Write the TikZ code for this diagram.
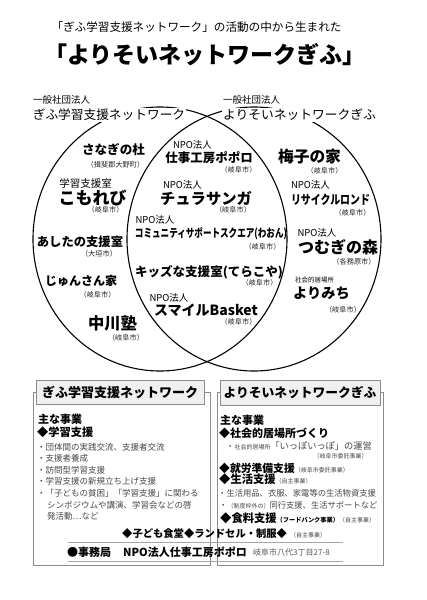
\documentclass[tikz,border=0pt]{standalone}
\usepackage{fontspec}
\usepackage{graphicx}
\setmainfont{Noto Sans CJK JP}
\newcommand\fsz[1]{\fontsize{#1pt}{#1pt}\selectfont}
\begin{document}
\begin{tikzpicture}[x=1pt,y=-1pt,
  c/.style={anchor=center,inner sep=0pt},
  t/.style={anchor=west,inner sep=0pt},
  npo/.style={c,font=\fsz{9.5}},
  city/.style={c,font=\fsz{7.2},text=black!85},
  org/.style={c,font=\bfseries\fsz{#1}},
  cap/.style={c,font=\fsz{#1},fill=white,inner sep=1pt},
  venn/.style={draw=black,line width=1.1pt},
  frame/.style={draw=black!45,line width=0.8pt},
  titlebox/.style={draw=black!45,fill=black!6,line width=0.7pt,inner sep=0pt,font=\bfseries\fsz{#1}},
  head/.style={t,font=\bfseries\fsz{#1}},
  item/.style={t,font=\fsz{8.5},text=black!72},
  rule/.style={draw=black!35,line width=0.6pt}
]
\useasboundingbox (0,0) rectangle (426,600);
\fill[white] (0,0) rectangle (426,600);

% titles
\node[c,font=\fsz{11.6}] (sub) at (196.5,27) {「ぎふ学習支援ネットワーク」の活動の中から生まれた};
\node[c,font=\bfseries\fsz{23}] (title) at (205,55) {「よりそいネットワークぎふ」};

% Venn ellipses
\draw[venn] (160,239) ellipse [x radius=127, y radius=132];
\draw[venn] (254,239) ellipse [x radius=127, y radius=132];

% circle captions
\node[npo] (lcorp) at (61.5,100) {一般社団法人};
\node[cap=12.7] (lname) at (109,115) {ぎふ学習支援ネットワーク};
\node[npo] (rcorp) at (251.5,100) {一般社団法人};
\node[cap=12.75] (rname) at (299.5,115) {よりそいネットワークぎふ};

% left only
\node[org=12.6] (sanagi) at (113.5,150) {さなぎの杜};
\node[city] (sanagic) at (115.5,165) {（揖斐郡大野町）};
\node[c,font=\fsz{10.5}] (komorebip) at (85.5,183) {学習支援室};
\node[org=17] (komorebi) at (92.5,198) {こもれび};
\node[city] (komorebic) at (105.5,210) {（岐阜市）};
\node[org=12.3] (ashita) at (80,242) {あしたの支援室};
\node[city] (ashitac) at (99,254) {（大垣市）};
\node[org=12] (junsan) at (81,281) {じゅんさん家};
\node[city] (junsanc) at (97.5,295) {（岐阜市）};
\node[org=16.3] (nakagawa) at (112.5,323) {中川塾};
\node[city] (nakagawac) at (126,338) {（岐阜市）};

% middle
\node[npo] (popolop) at (192.5,145) {NPO法人};
\node[org=12.5] (popolo) at (209,158) {仕事工房ポポロ};
\node[city] (popoloc) at (238.5,170) {（岐阜市）};
\node[npo] (churap) at (182.5,185) {NPO法人};
\node[org=15.3] (chura) at (206,198) {チュラサンガ};
\node[city] (churac) at (233,210) {（岐阜市）};
\node[npo] (waonp) at (155,220) {NPO法人};
\node[org=11.5] (waon) at (211,234) {\resizebox{152pt}{\height}{コミュニティサポートスクエア(わおん)}};
\node[city] (waonc) at (262.5,247) {（岐阜市）};
\node[org=12.5] (kids) at (209,272) {\resizebox{148pt}{\height}{キッズな支援室(てらこや)}};
\node[city] (kidsc) at (259.5,283) {（岐阜市）};
\node[npo] (smilep) at (169,298) {NPO法人};
\node[org=14] (smile) at (206,310) {スマイルBasket};
\node[city] (smilec) at (238.5,322) {（岐阜市）};

% right only
\node[org=15.7] (umeko) at (309.5,157) {梅子の家};
\node[city] (umekoc) at (324.5,171) {（岐阜市）};
\node[npo] (recyp) at (310.5,185) {NPO法人};
\node[org=12.5] (recy) at (330.5,200) {\resizebox{79pt}{\height}{リサイクルロンド}};
\node[city] (recyc) at (352.5,213) {（岐阜市）};
\node[npo] (tsumugip) at (317,233) {NPO法人};
\node[org=16] (tsumugi) at (338,247) {つむぎの森};
\node[city] (tsumugic) at (354,262) {（各務原市）};
\node[c,font=\fsz{6.5}] (yorimichip) at (314.5,280) {社会的居場所};
\node[org=14.2] (yorimichi) at (321.5,293) {よりみち};
\node[city] (yorimichic) at (343,310) {（岐阜市）};

% bottom frames
\draw[frame] (33,392) rectangle (210,565);
\draw[frame] (217,392) rectangle (383,565);
\node[titlebox=13,minimum width=168pt,minimum height=24pt] (lt) at (120,392) {ぎふ学習支援ネットワーク};
\node[titlebox=12.75,minimum width=160pt,minimum height=25pt] (rt) at (300,392.5) {よりそいネットワークぎふ};

% left box contents
\node[head=11] (lmain) at (38,419) {主な事業};
\node[head=11.2] (lgaku) at (37,432) {◆学習支援};
\node[item] (l1) at (37,447) {・団体間の実践交流、支援者交流};
\node[item] (l2) at (37,458.5) {・支援者養成};
\node[item] (l3) at (37,470) {・訪問型学習支援};
\node[item] (l4) at (37,481.5) {・学習支援の新規立ち上げ支援};
\node[item] (l5) at (37,493) {・「子どもの貧困」「学習支援」に関わる};
\node[item] (l6) at (47,505) {シンポジウムや講演、学習会などの啓};
\node[item] (l7) at (47,516) {発活動…など};

% right box contents
\node[head=11] (rmain) at (220,420) {主な事業};
\node[head=11] (r1) at (219,433) {◆社会的居場所づくり};
\node[t,text=black!72] (r2) at (226,446) {{\fsz{8.3}・}{\fsz{6}社会的居場所}{\fsz{9.2}「いっぽいっぽ」の運営}};
\node[c,font=\fsz{6},text=black!72] (r3) at (340.5,456) {（岐阜市委託事業）};
\node[t] (r4) at (219,468) {{\bfseries\fsz{10.8}◆就労準備支援}{\fsz{6}\color{black!72}（岐阜市委託事業）}};
\node[t] (r5) at (219,479) {{\bfseries\fsz{11.3}◆生活支援}{\fsz{6}\color{black!72}（自主事業）}};
\node[item,font=\fsz{8.3}] (r6) at (218,493) {・生活用品、衣服、家電等の生活物資支援};
\node[t,text=black!72] (r7) at (219,505) {{\fsz{8.3}・}{\fsz{6}（制度枠外の）}{\fsz{8.3}同行支援、生活サポートなど}};
\node[t] (r8) at (220,518) {{\bfseries\fsz{11.3}◆食料支援}{\bfseries\fsz{6.2}（フードバンク事業）}{\fsz{6}\color{black!72}（自主事業）}};

% shared bottom lines
\node[t] (shokudo) at (122,534) {{\bfseries\fsz{10.3}◆子ども食堂◆ランドセル・制服◆}\hspace{3pt}{\fsz{6}\color{black!72}（自主事業）}};
\draw[rule] (68,542) -- (343,542);
\node[head=11] (office) at (67,552) {●事務局};
\node[head=11] (officename) at (123,552) {NPO法人仕事工房ポポロ};
\node[t,font=\fsz{8},text=black!65] (address) at (253,552) {岐阜市八代3丁目27-8};
\draw[rule] (68,561) -- (343,561);
\end{tikzpicture}
\end{document}
